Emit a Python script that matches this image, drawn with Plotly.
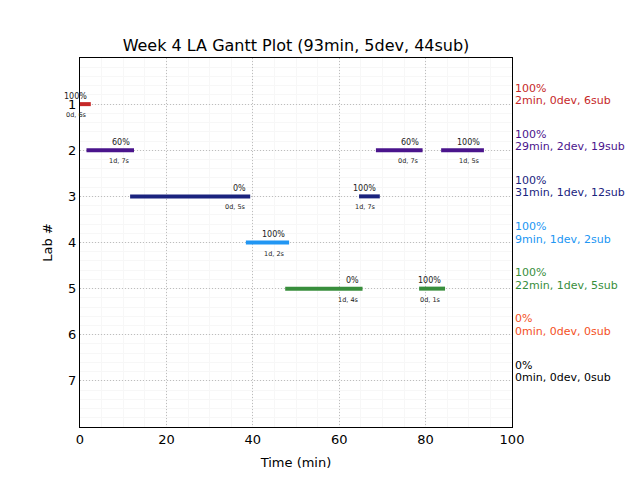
import plotly.graph_objects as go

# ---- data ----
lab_ids = [1, 2, 3, 4, 5, 6, 7]
lab_colors = ["#c62828", "#4a148c", "#1a237e", "#2196f3", "#388e3c", "#f4511e", "#000000"]
lab_pct = ["100%", "100%", "100%", "100%", "100%", "0%", "0%"]
lab_summary = ["2min, 0dev, 6sub", "29min, 2dev, 19sub", "31min, 1dev, 12sub",
               "9min, 1dev, 2sub", "22min, 1dev, 5sub", "0min, 0dev, 0sub", "0min, 0dev, 0sub"]

seg_lab = [1, 2, 2, 2, 3, 3, 4, 5, 5]
seg_start = [0.0, 1.5, 68.5, 83.6, 11.6, 64.6, 38.4, 47.5, 78.5]
seg_end = [2.5, 12.5, 79.3, 93.5, 39.4, 69.4, 48.4, 65.4, 84.5]
seg_pct = ["100%", "60%", "60%", "100%", "0%", "100%", "100%", "0%", "100%"]
seg_info = ["0d, 6s", "1d, 7s", "0d, 7s", "1d, 5s", "0d, 5s", "1d, 7s", "1d, 2s", "1d, 4s", "0d, 1s"]

title = "Week 4 LA Gantt Plot (93min, 5dev, 44sub)"
x_ticks = [0, 20, 40, 60, 80, 100]

fig = go.Figure()
annotations = []
for lab, s, e, p, info in zip(seg_lab, seg_start, seg_end, seg_pct, seg_info):
    col = lab_colors[lab - 1]
    fig.add_trace(go.Scatter(x=[s, e], y=[lab, lab], mode="lines",
                             line=dict(color=col, width=4), showlegend=False,
                             hoverinfo="skip"))
    annotations.append(dict(x=e, y=lab, xref="x", yref="y", text=p, showarrow=False,
                            xanchor="right", yanchor="middle", xshift=-2, yshift=8,
                            font=dict(size=8, color="#222222", family="DejaVu Sans")))
    annotations.append(dict(x=e, y=lab, xref="x", yref="y", text=info, showarrow=False,
                            xanchor="right", yanchor="middle", xshift=-2, yshift=-11,
                            font=dict(size=6.5, color="#222222", family="DejaVu Sans")))

for lab, col, p, summ in zip(lab_ids, lab_colors, lab_pct, lab_summary):
    annotations.append(dict(x=1, y=lab, xref="paper", yref="y", text=p, showarrow=False,
                            xanchor="left", yanchor="middle", xshift=1, yshift=15.8,
                            font=dict(size=11, color=col, family="DejaVu Sans")))
    annotations.append(dict(x=1, y=lab, xref="paper", yref="y", text=summ, showarrow=False,
                            xanchor="left", yanchor="middle", xshift=1, yshift=3.5,
                            font=dict(size=11, color=col, family="DejaVu Sans")))

fig.update_layout(
    width=640, height=480,
    margin=dict(l=80, r=128, t=58, b=53),
    paper_bgcolor="white", plot_bgcolor="white",
    font=dict(family="DejaVu Sans", color="black"),
    title=dict(text=title, x=296 / 640, xanchor="center", y=1 - 45 / 480, yanchor="middle",
               font=dict(size=16, color="black")),
    annotations=annotations,
    xaxis=dict(range=[0, 100], tickvals=x_ticks, ticks="", showline=True, mirror=True,
               linecolor="black", linewidth=1, showgrid=True, gridcolor="#bdbdbd",
               griddash="1px,2px", gridwidth=1, zeroline=False,
               tickfont=dict(size=13),
               title=dict(text="Time (min)", font=dict(size=13), standoff=12),
               minor=dict(dtick=5, tick0=0, showgrid=True, gridcolor="#f7f7f7",
                          griddash="solid", ticks="")),
    yaxis=dict(range=[8, 0], tickvals=lab_ids, ticks="", showline=True, mirror=True,
               linecolor="black", linewidth=1, showgrid=True, gridcolor="#bdbdbd",
               griddash="1px,2px", gridwidth=1, zeroline=False,
               tickfont=dict(size=13),
               title=dict(text="Lab #", font=dict(size=13), standoff=12),
               minor=dict(dtick=0.2, tick0=0, showgrid=True, gridcolor="#f7f7f7",
                          griddash="solid", ticks="")),
)

fig.write_html("out.html")
